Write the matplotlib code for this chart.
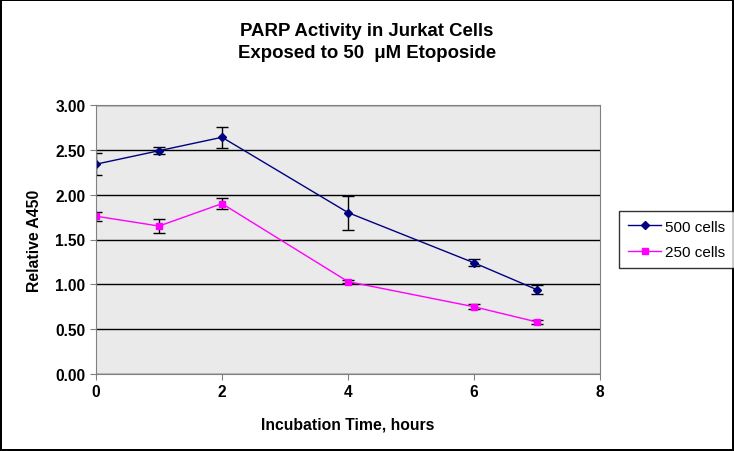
import matplotlib
matplotlib.use("Agg")
import matplotlib.pyplot as plt
from matplotlib.lines import Line2D

plt.rcParams['font.family'] = ['Liberation Sans', 'DejaVu Sans']
plt.rcParams['font.weight'] = 'bold'

hours = [0, 1, 2, 4, 6, 7]
cells500 = [2.34, 2.49, 2.64, 1.80, 1.24, 0.94]
err500 = [0.12, 0.04, 0.12, 0.19, 0.04, 0.05]
cells250 = [1.76, 1.65, 1.90, 1.03, 0.75, 0.58]
err250 = [0.05, 0.08, 0.06, 0.02, 0.03, 0.02]

fig = plt.figure(figsize=(7.34, 4.52), dpi=100)
fig.patch.set_edgecolor('black')
fig.patch.set_linewidth(1.5)
ax = fig.add_axes([96/734, 1 - 375/452, 504/734, 269/452])
ax.set_facecolor('#EAEAEA')

ax.errorbar(hours, cells500, yerr=err500, color='#000080', marker='D', markersize=4.5,
            lw=1, ecolor='black', elinewidth=1, capsize=4)
ax.errorbar(hours, cells250, yerr=err250, color='#FF00FF', marker='s', markersize=5,
            lw=1, ecolor='black', elinewidth=1, capsize=4)

ax.set_xlim(0, 8)
ax.set_ylim(0, 3)
ax.set_xticks([0, 2, 4, 6, 8])
ax.set_yticks([0, 0.5, 1, 1.5, 2, 2.5, 3])
ax.set_yticklabels([f'{v:.2f}' for v in ax.get_yticks()])
ax.yaxis.grid(True, color='black', lw=1)
ax.set_axisbelow(True)
for s in ['top', 'right', 'left', 'bottom']:
    ax.spines[s].set_color('#808080')
ax.tick_params(labelsize=11.2, direction='out', length=4, color='#808080')

ax.set_xlabel('Incubation Time, hours', fontsize=11.3, fontweight='bold', labelpad=12)
ax.set_ylabel('Relative A450', fontsize=11.3, fontweight='bold', labelpad=10)
fig.text(367/734, 1 - 32/452, 'PARP Activity in Jurkat Cells',
         ha='center', va='center', fontsize=13.4, fontweight='bold')
fig.text(367/734, 1 - 53/452, 'Exposed to 50  \u03bcM Etoposide',
         ha='center', va='center', fontsize=13.4, fontweight='bold')

# legend without the error bar glyphs
handles = [Line2D([], [], color='#000080', marker='D', markersize=4, lw=1),
           Line2D([], [], color='#FF00FF', marker='s', markersize=5, lw=1)]
leg = ax.legend(handles, ['500 cells', '250 cells'], loc='center left',
                bbox_to_anchor=(1.037, 0.50), prop={'size': 11, 'weight': 'normal'},
                frameon=True, fancybox=False, edgecolor='black', borderpad=0.6,
                handlelength=2.2, handletextpad=0.25, labelspacing=0.75, borderaxespad=0)
leg.get_frame().set_linewidth(1)

fig.savefig('out.png', dpi=100, edgecolor=fig.get_edgecolor())
